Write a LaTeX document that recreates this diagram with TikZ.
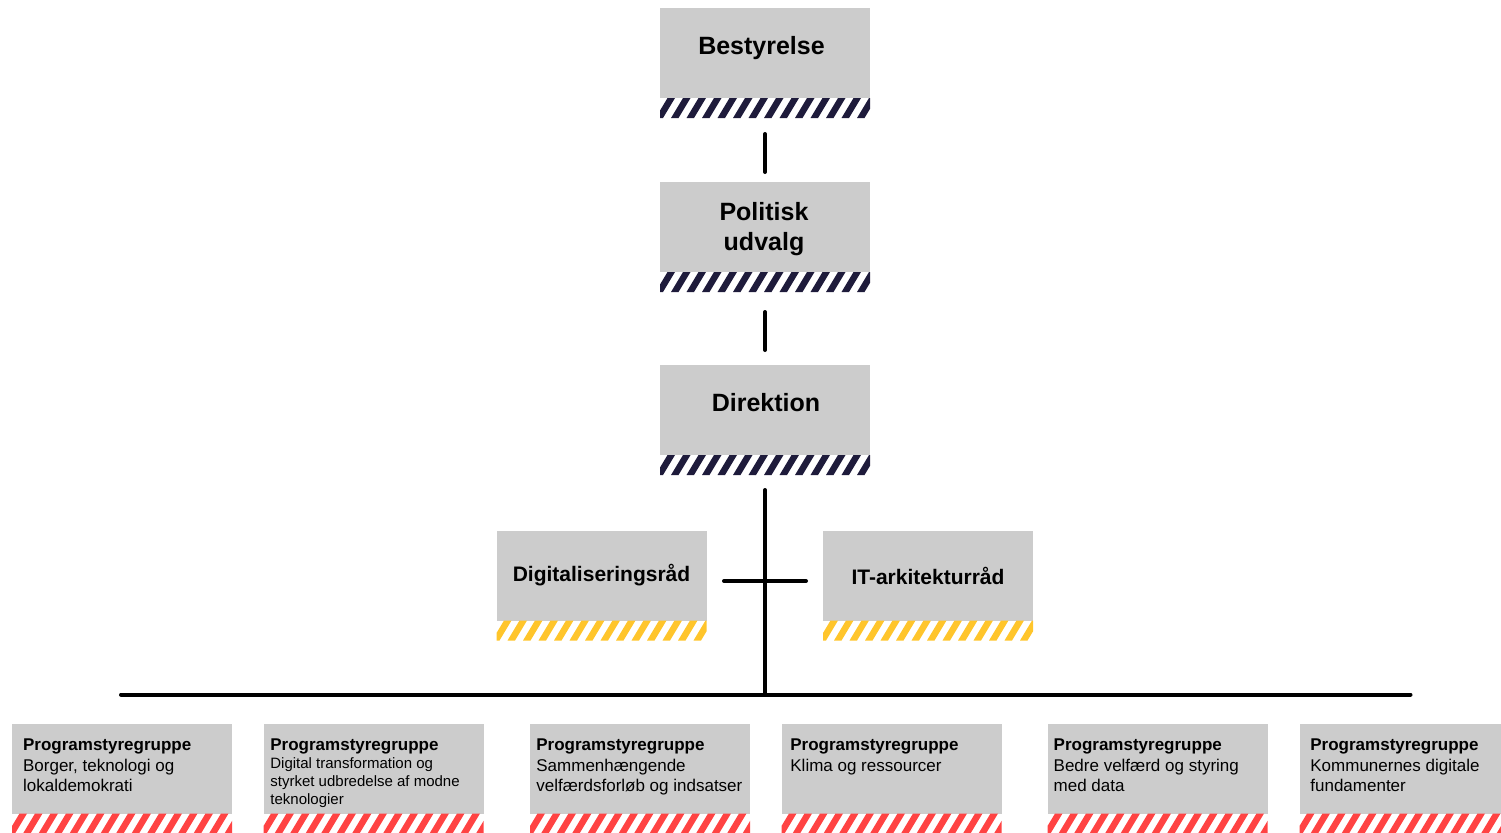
\documentclass[tikz,border=0pt]{standalone}
\usepackage{fontspec}
\setmainfont{Liberation Sans}
\usetikzlibrary{calc}

\definecolor{boxgray}{HTML}{CCCCCC}
\definecolor{navy}{HTML}{1E1B3B}
\definecolor{alarmred}{HTML}{FF4343}
\definecolor{amber}{HTML}{FFC52B}

% striped band under a box
\newcommand{\hatchbelow}[2]{%
  \begin{scope}
    \clip (#1.south west) rectangle ([yshift=-10pt]#1.south east);
    \foreach \s in {-10,-2.25,...,116}
      \fill[#2] ([xshift=\s pt,yshift=-10pt]#1.south west) -- ++(3.75pt,0pt) -- ++(6pt,10pt) -- ++(-3.75pt,0pt) -- cycle;
  \end{scope}}

\tikzset{
  graybox/.style={fill=boxgray, inner sep=0pt, outer sep=0pt, minimum width=105pt, minimum height=45pt},
  progbox/.style={graybox, minimum width=110pt},
  council/.style={graybox, font=\bfseries\fontsize{10.5}{12}\selectfont},
  title/.style={anchor=north, inner sep=0pt, align=center, font=\bfseries\fontsize{12.5}{15}\selectfont},
  progtext/.style={anchor=north west, inner sep=0pt, align=left, font=\fontsize{8.5}{10.25}\selectfont},
  link/.style={line width=2pt, line cap=round},
}

\begin{document}
\begin{tikzpicture}[x=0.5pt, y=-0.5pt]
    \useasboundingbox (0,0) rectangle (1501,832);
    \clip (0,0) rectangle (1501,832);

    % top chain
    \node[graybox] (best) at (765,53) {};
    \node[graybox] (pol) at (765,227) {};
    \node[graybox] (dir) at (765,410) {};
    \hatchbelow{best}{navy}
    \hatchbelow{pol}{navy}
    \hatchbelow{dir}{navy}

    \node[title] (best-lbl) at (761.5,35.5) {Bestyrelse};
    \node[title] (pol-lbl) at (764,201.5) {Politisk\\udvalg};
    \node[title] (dir-lbl) at (766,392.5) {Direktion};

    % councils
    \node[council] (digi) at (601.5,575.5) {Digitaliseringsråd};
    \node[council] (itark) at (928,575.5) {IT-arkitekturråd};
    \hatchbelow{digi}{amber}
    \hatchbelow{itark}{amber}

    % program groups
    \node[progbox] (prog1) at (122,768.5) {};
    \node[progbox] (prog2) at (373.5,768.5) {};
    \node[progbox] (prog3) at (640,768.5) {};
    \node[progbox] (prog4) at (891.5,768.5) {};
    \node[progbox] (prog5) at (1157.5,768.5) {};
    \node[progbox] (prog6) at (1409.5,768.5) {};
    \foreach \p in {prog1,prog2,prog3,prog4,prog5,prog6}
      {\hatchbelow{\p}{alarmred}}

    \node[progtext] (prog1-txt) at (22.7,738.5) {\textbf{Programstyregruppe}\\Borger, teknologi og\\lokaldemokrati};
    \node[progtext, font=\fontsize{7.5}{9}\selectfont] (prog2-txt) at (270,738.5)
      {{\fontsize{8.5}{9.5}\selectfont\bfseries Programstyregruppe}\\Digital transformation og\\styrket udbredelse af modne\\teknologier};
    \node[progtext] (prog3-txt) at (536,738.5) {\textbf{Programstyregruppe}\\Sammenhængende\\velfærdsforløb og indsatser};
    \node[progtext] (prog4-txt) at (790,738.5) {\textbf{Programstyregruppe}\\Klima og ressourcer};
    \node[progtext] (prog5-txt) at (1053.3,738.5) {\textbf{Programstyregruppe}\\Bedre velfærd og styring\\med data};
    \node[progtext] (prog6-txt) at (1310,738.5) {\textbf{Programstyregruppe}\\Kommunernes digitale\\fundamenter};

    % connectors
    \coordinate (busW) at (121,694.5);
    \coordinate (busE) at (1410.5,694.5);
    \coordinate (busM) at (765,694.5);

    \draw[link, shorten <=18pt, shorten >=5pt] (best) -- (pol);
    \draw[link, shorten <=20pt, shorten >=7.5pt] (pol) -- (dir);
    \draw[link, shorten <=17.5pt] (dir) -- (busM);
    \draw[link, shorten <=8.75pt, shorten >=8.5pt] ([yshift=-2.75pt]digi.east) -- ([yshift=-2.75pt]itark.west);
    \draw[link] (busW) -- (busE);

\end{tikzpicture}
\end{document}
